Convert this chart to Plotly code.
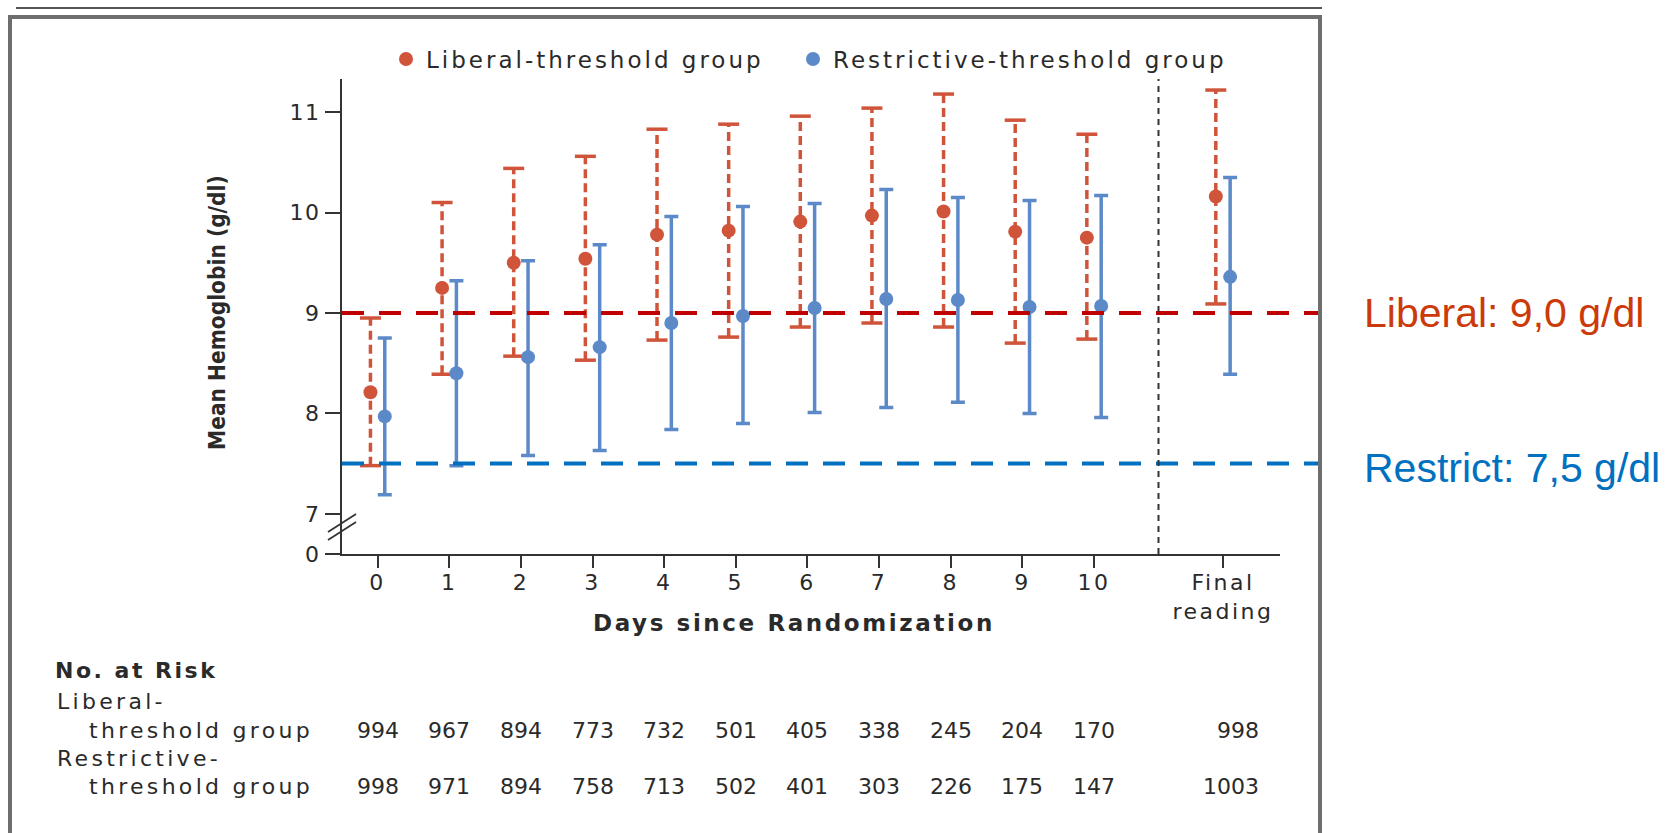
import plotly.graph_objects as go

W, H = 1665, 833

# x categories: days since randomization plus the final reading
x_pos = [0, 1, 2, 3, 4, 5, 6, 7, 8, 9, 10, 11.8]
x_labels = ["0", "1", "2", "3", "4", "5", "6", "7", "8", "9", "10", "Final|reading"]

# mean hemoglobin (g/dl) with upper / lower limits of the whiskers
lib_mean = [8.21, 9.25, 9.50, 9.54, 9.78, 9.82, 9.91, 9.97, 10.01, 9.81, 9.75, 10.16]
lib_hi = [8.95, 10.10, 10.44, 10.56, 10.83, 10.88, 10.96, 11.04, 11.18, 10.92, 10.78, 11.22]
lib_lo = [7.48, 8.39, 8.57, 8.53, 8.73, 8.76, 8.86, 8.90, 8.86, 8.70, 8.74, 9.09]

res_mean = [7.97, 8.40, 8.56, 8.66, 8.90, 8.97, 9.05, 9.14, 9.13, 9.06, 9.07, 9.36]
res_hi = [8.75, 9.32, 9.52, 9.68, 9.96, 10.06, 10.09, 10.23, 10.15, 10.12, 10.17, 10.35]
res_lo = [7.19, 7.48, 7.58, 7.63, 7.84, 7.90, 8.01, 8.06, 8.11, 8.00, 7.96, 8.39]

# number at risk per column
lib_risk = [994, 967, 894, 773, 732, 501, 405, 338, 245, 204, 170, 998]
res_risk = [998, 971, 894, 758, 713, 502, 401, 303, 226, 175, 147, 1003]

# transfusion thresholds
LIBERAL = 9.0
RESTRICT = 7.5

# y-axis ticks (axis is broken between 0 and 7)
y_ticks = [6.6, 7, 8, 9, 10, 11]
y_ticklabels = ["0", "7", "8", "9", "10", "11"]

RED = "#D0543A"
BLUE = "#5C8AC8"
INK = "#2a2a2a"
FONT = "DejaVu Sans"
COND = "DejaVu Sans Condensed"
OFF = 0.1  # horizontal offset of each group around the tick


def spaced(t, px=3.0):
    return f'<span style="letter-spacing:{px}px">{t}</span>'


def py(p):
    """pixel row (from top) -> paper y"""
    return 1 - p / H


lib_x = [x - OFF for x in x_pos]
res_x = [x + OFF for x in x_pos]

# dashed whiskers for the liberal group
wx, wy = [], []
for x, lo, hi in zip(lib_x, lib_lo, lib_hi):
    wx += [x, x, None]
    wy += [lo, hi, None]

fig = go.Figure()
fig.add_trace(go.Scatter(
    x=wx, y=wy, mode="lines", showlegend=False, hoverinfo="skip",
    line=dict(color=RED, width=3.5, dash="9px,5px"),
))
fig.add_trace(go.Scatter(
    x=lib_x + lib_x, y=lib_hi + lib_lo, mode="markers", showlegend=False, hoverinfo="skip",
    marker=dict(symbol="line-ew", size=15, line=dict(color=RED, width=3.5)),
))
fig.add_trace(go.Scatter(
    x=res_x, y=res_mean, mode="markers", name=spaced("Restrictive-threshold group"),
    legend="legend2",
    marker=dict(color=BLUE, size=14),
    error_y=dict(type="data", symmetric=False,
                 array=[h - m for h, m in zip(res_hi, res_mean)],
                 arrayminus=[m - l for m, l in zip(res_mean, res_lo)],
                 color=BLUE, thickness=3.5, width=7),
))
fig.add_trace(go.Scatter(
    x=lib_x, y=lib_mean, mode="markers", name=spaced("Liberal-threshold group"),
    legend="legend",
    marker=dict(color=RED, size=14),
))

shapes = []
# threshold reference lines, running out to the frame
for val, col in [(LIBERAL, "#C00000"), (RESTRICT, "#0070C0")]:
    shapes.append(dict(type="line", xref="paper", yref="y",
                       x0=342 / W, x1=1320 / W, y0=val, y1=val,
                       line=dict(color=col, width=4, dash="22px,15px")))
# separator before the final reading
shapes.append(dict(type="line", xref="x", yref="y domain", x0=10.9, x1=10.9, y0=0, y1=1,
                   line=dict(color="#333", width=2, dash="6px,5px")))
# axis break marks
for dy in (5, -3):
    shapes.append(dict(type="line", xref="x domain", yref="y",
                       xsizemode="pixel", ysizemode="pixel", xanchor=0, yanchor=6.86,
                       x0=-14, x1=14, y0=dy - 9, y1=dy + 9,
                       line=dict(color="#333", width=1.8)))
# frame
shapes.append(dict(type="line", xref="paper", yref="paper", x0=16 / W, x1=1322 / W,
                   y0=py(8), y1=py(8), line=dict(color="#555", width=2)))
shapes.append(dict(type="rect", xref="paper", yref="paper", x0=10 / W, x1=1320 / W,
                   y0=-0.05, y1=py(17), line=dict(color="#6e6e6e", width=4)))

ann = []
ann.append(dict(text=spaced("<b>Days since Randomization</b>", 2.6), xref="paper", yref="paper",
                x=794 / W, y=py(623), xanchor="center", yanchor="middle", showarrow=False,
                font=dict(family=FONT, size=23, color=INK)))
ann.append(dict(text="<b>Mean Hemoglobin (g/dl)</b>", xref="paper", yref="paper",
                x=217 / W, y=py(313), xanchor="center", yanchor="middle", textangle=-90,
                showarrow=False, font=dict(family=COND, size=22.5, color=INK)))
ann.append(dict(text="Liberal: 9,0 g/dl", xref="paper", yref="y", x=1362 / W, y=LIBERAL,
                xanchor="left", yanchor="middle", showarrow=False,
                font=dict(family="Liberation Sans, Arial", size=41, color="#CC3A0A")))
ann.append(dict(text="Restrict: 7,5 g/dl", xref="paper", yref="y", x=1362 / W, y=RESTRICT,
                xanchor="left", yanchor="middle", yshift=-4, showarrow=False,
                font=dict(family="Liberation Sans, Arial", size=41, color="#0070C0")))

# number-at-risk table
tf = dict(family=FONT, size=22, color=INK)
ann.append(dict(text=spaced("<b>No. at Risk</b>", 2.5), xref="paper", yref="paper", x=53 / W, y=py(670),
                xanchor="left", yanchor="middle", showarrow=False, font=tf))
for txt, px_, row in [("Liberal-", 55, 701), ("threshold group", 87, 730),
                      ("Restrictive-", 55, 758), ("threshold group", 87, 786)]:
    ann.append(dict(text=spaced(txt, 3.3), xref="paper", yref="paper", x=px_ / W, y=py(row),
                    xanchor="left", yanchor="middle", showarrow=False, font=tf))
for counts, row in [(lib_risk, 730), (res_risk, 786)]:
    for i, (x, n) in enumerate(zip(x_pos, counts)):
        last = i == len(x_pos) - 1
        ann.append(dict(text=str(n), xref="x", yref="paper", x=x, y=py(row),
                        xanchor="right" if last else "center", yanchor="middle",
                        xshift=38 if last else 0, showarrow=False, font=tf))

legend_style = dict(orientation="h", yanchor="middle", xanchor="left", y=py(59),
                    font=dict(family=FONT, size=23, color=INK), bgcolor="rgba(0,0,0,0)")

fig.update_layout(
    width=W, height=H, margin=dict(l=0, r=0, t=0, b=0),
    paper_bgcolor="white", plot_bgcolor="white",
    font=dict(family=FONT, color=INK),
    showlegend=True,
    legend=dict(x=386 / W, **legend_style),
    legend2=dict(x=793 / W, **legend_style),
    xaxis=dict(domain=[342 / W, 1280 / W], range=[-0.497, 12.596],
               tickvals=x_pos,
               ticktext=["<br>".join(spaced(p, 2.5) for p in t.split("|")) for t in x_labels],
               ticks="outside", ticklen=12, tickwidth=2, tickcolor="#333",
               ticklabelstandoff=-4,
               showline=True, linecolor="#333", linewidth=2,
               showgrid=False, zeroline=False, automargin=False,
               tickfont=dict(family=FONT, size=22, color=INK)),
    yaxis=dict(domain=[py(554), py(79)], range=[6.6, 11.33],
               tickvals=y_ticks, ticktext=[spaced(t, 1.5) for t in y_ticklabels],
               ticks="outside", ticklen=15, tickwidth=2, tickcolor="#333",
               showline=True, linecolor="#333", linewidth=2,
               showgrid=False, zeroline=False, automargin=False,
               tickfont=dict(family=FONT, size=22, color=INK)),
    shapes=shapes, annotations=ann,
)

fig.write_html("out.html")
